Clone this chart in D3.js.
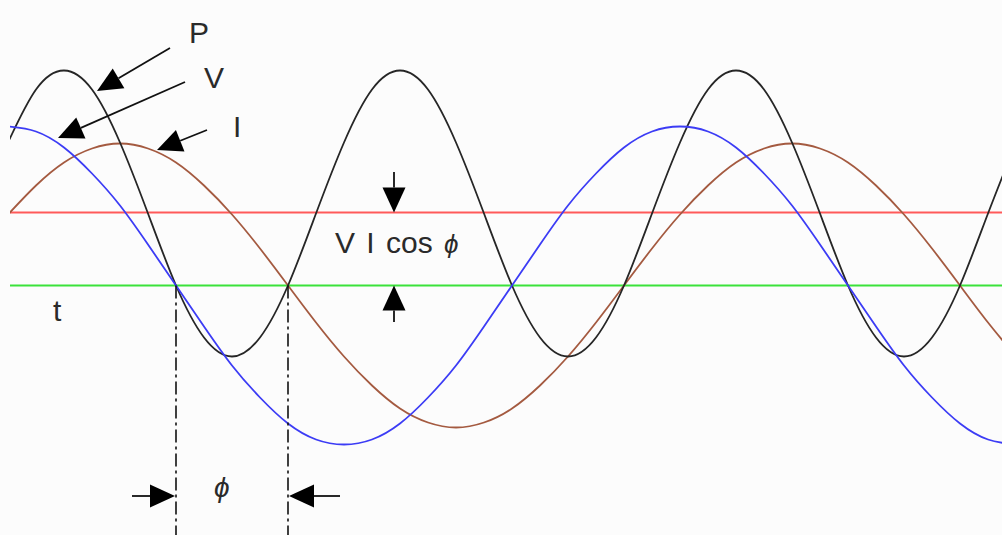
<!DOCTYPE html>
<html>
<head>
<meta charset="utf-8">
<script src="https://cdn.jsdelivr.net/npm/d3@7"></script>
<style>
  html, body { margin: 0; padding: 0; background: #fcfcfc; }
  svg { display: block; }
  text { font-family: "Liberation Sans", Arial, sans-serif; fill: #2a2a2a; }
</style>
</head>
<body>
<div id="container"></div>
<script>

const width = 1002;
const height = 535;

// phase angle (degrees) sampled every 15 deg
const angles = [0, 15, 30, 45, 60, 75, 90, 105, 120, 135, 150, 165, 180, 195, 210, 225, 240, 255,
    270, 285, 300, 315, 330, 345, 360, 375, 390, 405, 420, 435, 450, 465, 480, 495, 510, 525, 540];

// (pixels above the t axis)
const voltage = [159, 154, 138, 112, 80, 41, 0, -41, -80, -112, -138, -154, -159, -154, -138, -112, -80, -41,
    0, 41, 80, 112, 138, 154, 159, 154, 138, 112, 80, 41, 0, -41, -80, -112, -138, -154, -159];
const current = [71, 100, 123, 137, 142, 137, 123, 100, 71, 37, 0, -37, -71, -100, -123, -137, -142, -137,
    -123, -100, -71, -37, 0, 37, 71, 100, 123, 137, 142, 137, 123, 100, 71, 37, 0, -37, -71];
const power = [143, 196, 215, 196, 143, 72, 0, -52, -71, -52, 0, 72, 143, 196, 215, 196, 143, 72,
    0, -52, -71, -52, 0, 72, 143, 196, 215, 196, 143, 72, 0, -52, -71, -52, 0, 72, 143];

const meanPower = 73;      // V I cos phi
const phiStart = 90;       // V crosses zero
const phiEnd = 150;        // I crosses zero

const svg = d3.select('#container').append('svg')
    .attr('width', width)
    .attr('height', height);

const x = d3.scaleLinear().domain([0, 360]).range([8, 680]);
const y = d3.scaleLinear().domain([0, 100]).range([285.5, 185.5]);

svg.append('rect')
    .attr('width', width)
    .attr('height', height)
    .attr('fill', '#fcfcfc');

svg.append('defs').append('clipPath')
    .attr('id', 'plot')
    .append('rect')
    .attr('x', 10)
    .attr('y', 0)
    .attr('width', width - 10)
    .attr('height', height);

// t axis and average power
svg.append('line')
    .attr('x1', 10).attr('x2', width)
    .attr('y1', y(0)).attr('y2', y(0))
    .attr('stroke', '#3be23b')
    .attr('stroke-width', 2.2);

svg.append('line')
    .attr('x1', 10).attr('x2', width)
    .attr('y1', y(meanPower)).attr('y2', y(meanPower))
    .attr('stroke', '#ff5a5a')
    .attr('stroke-width', 2.2);

const line = d3.line()
    .x(d => x(d[0]))
    .y(d => y(d[1]))
    .curve(d3.curveNatural);

const series = [
    { values: current, color: '#a45a40' },
    { values: power, color: '#262626' },
    { values: voltage, color: '#3c3cf5' }
];

const curves = svg.append('g').attr('clip-path', 'url(#plot)');
curves.selectAll('path')
    .data(series)
    .join('path')
    .attr('d', s => line(angles.map((a, i) => [a, s.values[i]])))
    .attr('fill', 'none')
    .attr('stroke', s => s.color)
    .attr('stroke-width', 1.8)
    .attr('stroke-linejoin', 'round');

// dash-dot markers at the zero crossings
svg.selectAll('.marker')
    .data([phiStart, phiEnd])
    .join('line')
    .attr('class', 'marker')
    .attr('x1', d => x(d)).attr('x2', d => x(d))
    .attr('y1', y(0)).attr('y2', height)
    .attr('stroke', '#111')
    .attr('stroke-width', 1.6)
    .attr('stroke-dasharray', '13,4,3,4');

// arrow: stem from (x1,y1), filled head ending at (x2,y2)
const arrow = (x1, y1, x2, y2) => {
    const len = 25, half = 11.5;
    const dx = x2 - x1, dy = y2 - y1;
    const d = Math.sqrt(dx * dx + dy * dy);
    const ux = dx / d, uy = dy / d;
    const bx = x2 - ux * len, by = y2 - uy * len;
    svg.append('line')
        .attr('x1', x1).attr('y1', y1)
        .attr('x2', bx).attr('y2', by)
        .attr('stroke', '#111')
        .attr('stroke-width', 1.8);
    svg.append('path')
        .attr('d', `M${x2},${y2}L${bx - uy * half},${by + ux * half}L${bx + uy * half},${by - ux * half}Z`)
        .attr('fill', '#000');
};

arrow(170, 48, 97, 91);
arrow(185, 82, 58, 138);
arrow(207, 130, 157, 150);

const ax = 394;
arrow(ax, 172, ax, y(meanPower));
arrow(ax, 322, ax, y(0));

arrow(132, 496, x(phiStart) - 1, 496);
arrow(340, 496, x(phiEnd) + 1, 496);

const labels = [
    { text: 'P', x: 189, y: 43 },
    { text: 'V', x: 204, y: 88 },
    { text: 'I', x: 233, y: 137 },
    { text: 't', x: 53, y: 321 }
];

svg.selectAll('.label')
    .data(labels)
    .join('text')
    .attr('class', 'label')
    .attr('x', d => d.x)
    .attr('y', d => d.y)
    .attr('font-size', 30)
    .text(d => d.text);

const vi = svg.append('text')
    .attr('x', 335)
    .attr('y', 253)
    .attr('font-size', 30)
    .attr('word-spacing', 3)
    .attr('xml:space', 'preserve');
vi.append('tspan').text('V I cos ');
vi.append('tspan').attr('font-style', 'italic').attr('font-size', 26).text('ϕ');

svg.append('text')
    .attr('x', 214)
    .attr('y', 497)
    .attr('font-size', 28)
    .attr('font-style', 'italic')
    .text('ϕ');

</script>
</body>
</html>
